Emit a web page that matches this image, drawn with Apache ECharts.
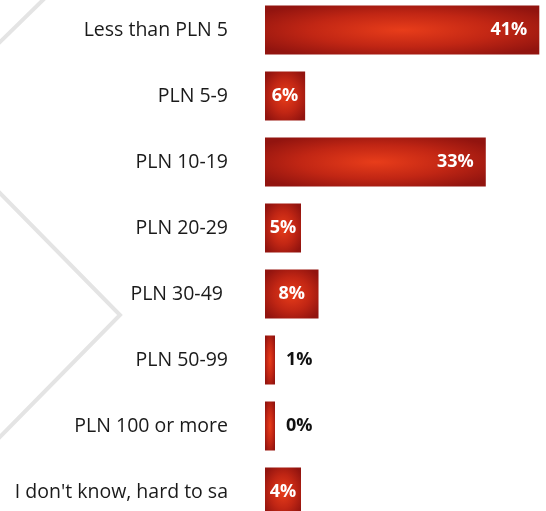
<!DOCTYPE html>
<html>
<head>
<meta charset="utf-8">
<script src="https://cdn.jsdelivr.net/npm/echarts@6/dist/echarts.min.js"></script>
<style>
html,body{margin:0;padding:0;background:#fff;}
#chart{width:546px;height:511px;}
</style>
</head>
<body>
<div id="chart"></div>
<script>
var categories = ["Less than PLN 5","PLN 5-9","PLN 10-19","PLN 20-29","PLN 30-49 ","PLN 50-99","PLN 100 or more","I don't know, hard to sa"];
var values = [41, 6, 33, 5, 8, 1, 0, 4];

var FONT = "'Open Sans', sans-serif";
var BAR_H = 49;
var MIN_W_OUT = 10;   // bars whose label sits outside
var MIN_W_IN = 36;    // bars wide enough to hold their label

function renderBar(params, api){
  var v = api.value(0), i = api.value(1);
  var p0 = api.coord([0, i]);
  var p1 = api.coord([v, i]);
  var raw = p1[0] - p0[0];
  var inside = v >= 3;
  var w = Math.max(raw, inside ? MIN_W_IN : MIN_W_OUT);
  var tx, align, fill;
  if (!inside) { tx = p0[0] + w + 11; align = 'left'; fill = '#111'; }
  else if (v < 10) { tx = p0[0] + w/2; align = 'center'; fill = '#fff'; }
  else { tx = p0[0] + w - 12; align = 'right'; fill = '#fff'; }
  return {
    type:'group',
    children:[
      {
        type:'rect',
        x: p0[0], y: p0[1] - BAR_H/2,
        scaleX: w / BAR_H, scaleY: 1,
        shape:{x:0, y:0, width:BAR_H, height:BAR_H},
        style:{fill:{type:'radial', x:0.5, y:0.5, r:0.62, colorStops:[
          {offset:0, color:'#e83d1a'},{offset:0.55, color:'#c12614'},{offset:1, color:'#92140f'}]}}
      },
      {
        type:'text',
        x: tx, y: p0[1],
        style:{text: v + '%', fill: fill, align: align, verticalAlign:'middle',
          fontFamily: FONT, fontWeight:'bold', fontSize:18}
      }
    ]
  };
}

var chart = echarts.init(document.getElementById('chart'), null, {renderer:'canvas'});
chart.setOption({
  animation:false,
  backgroundColor:'#fff',
  graphic:[
    {type:'polyline', silent:true, z:-10, shape:{points:[[-2,44],[45,-2]]}, style:{stroke:'#e4e4e4', lineWidth:4, fill:null}},
    {type:'polyline', silent:true, z:-10, shape:{points:[[-2,191],[120,315],[-2,439]]}, style:{stroke:'#e4e4e4', lineWidth:4, fill:null}}
  ],
  grid:{left:265, width:281, top:-3, height:528, containLabel:false, outerBoundsMode:'none'},
  xAxis:{type:'value', min:0, max:42, show:false},
  yAxis:{type:'category', data:categories, inverse:true,
    axisLine:{show:false}, axisTick:{show:false},
    axisLabel:{margin:37, color:'#1a1a1a', fontFamily:FONT, fontSize:19.5}},
  series:[
    {type:'custom', silent:true,
     renderItem: renderBar,
     encode:{x:0, y:1},
     clip:false,
     data: values.map(function(v, i){ return [v, i]; })
    }
  ]
});
</script>
</body>
</html>
